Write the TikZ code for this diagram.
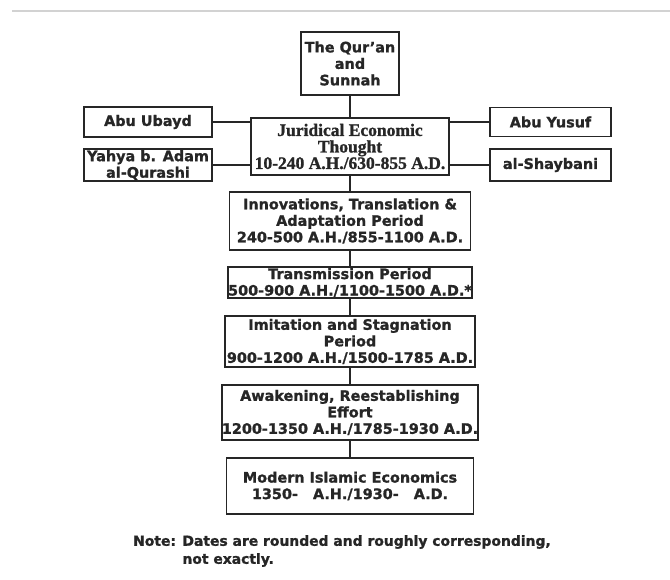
\documentclass[tikz,border=0pt]{standalone}
\usepackage{fontspec}
\setmainfont{DejaVu Sans}[BoldFeatures={FakeBold=1.2}]
\newfontfamily\seriffont{Liberation Serif}[BoldFeatures={FakeBold=1.2}]
\usepackage{xcolor}
\definecolor{ink}{HTML}{262626}
\tikzset{
  link/.style={draw, ink, line width=0.055cm},
}

\begin{document}
\begin{tikzpicture}[x=1pt,y=-1pt,
            period/.style={rectangle,draw=ink,line width=0.06cm,text=ink,align=center,inner sep=0pt,font=\bfseries\fontsize{14.4}{16.5}\selectfont},
            scholar/.style={period,minimum height=31pt},
            juridical/.style={period,font=\seriffont\bfseries\fontsize{17.5}{16.5}\selectfont}]
            \useasboundingbox (0,0) rectangle (670,580);
            \draw [gray!35, line width=0.04cm] (12,11) -- (670,11);

            \node (quran)[period, minimum width=98pt, minimum height=63pt] at (350,63.5) {The Qur'an\\and\\Sunnah};
            \node (jur)[juridical, minimum width=198pt, minimum height=57pt] at (350,146.5) {Juridical Economic\\Thought\\10-240 A.H./630-855 A.D.};

            \node (ubayd)[scholar, minimum width=128pt, minimum height=30pt] at (148,122) {Abu Ubayd};
            \node (yahya)[scholar, minimum width=128pt, minimum height=32pt] at (148,165) {Yahya b. Adam\\al-Qurashi};
            \node (yusuf)[scholar, minimum width=121pt, minimum height=29pt] at (550.5,122) {Abu Yusuf};
            \node (shaybani)[scholar, minimum width=121pt, minimum height=32pt] at (550.5,165) {al-Shaybani};

            \node (innov)[period, minimum width=241pt, minimum height=58pt] at (350,221) {Innovations, Translation \&\\Adaptation Period\\240-500 A.H./855-1100 A.D.};
            \node (trans)[period, minimum width=242pt, minimum height=31pt] at (350,282.5) {Transmission Period\\500-900 A.H./1100-1500 A.D.*};
            \node (imit)[period, minimum width=250pt, minimum height=51pt] at (350,341.5) {Imitation and Stagnation\\Period\\900-1200 A.H./1500-1785 A.D.};
            \node (awak)[period, minimum width=255pt, minimum height=55pt] at (350,412.5) {Awakening, Reestablishing\\Effort\\1200-1350 A.H./1785-1930 A.D.};
            \node (modern)[period, minimum width=247pt, minimum height=56pt] at (350,486) {Modern Islamic Economics\\1350-\ \ \ A.H./1930-\ \ \ A.D.};

            \node (note)[anchor=west, align=left, inner sep=0pt, text=ink, font=\bfseries\fontsize{13.9}{18}\selectfont] at (133,551) {Note: Dates are rounded and roughly corresponding,\\\phantom{Note: }not exactly.};

            \foreach \a/\b in {quran/jur, jur/innov, innov/trans, trans/imit, imit/awak, awak/modern}
              \draw [link] (\a.south) -- (\b.north);

            \draw [link] (ubayd.east) -- (ubayd.east -| jur.west);
            \draw [link] (yahya.east) -- (yahya.east -| jur.west);
            \draw [link] (yusuf.west) -- (yusuf.west -| jur.east);
            \draw [link] (shaybani.west) -- (shaybani.west -| jur.east);

         \end{tikzpicture}
\end{document}
